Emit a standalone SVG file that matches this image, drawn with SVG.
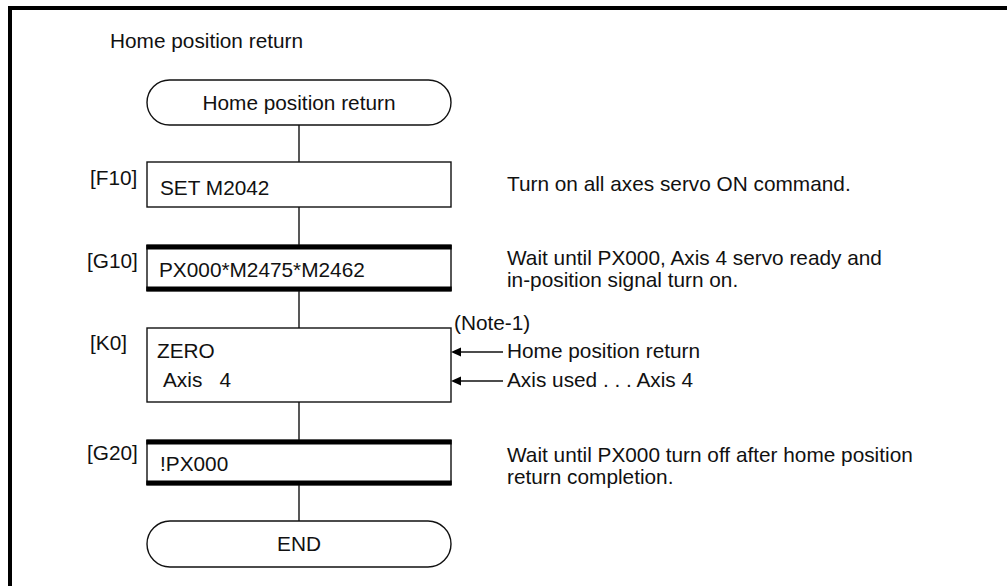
<svg xmlns="http://www.w3.org/2000/svg" width="1007" height="586" viewBox="0 0 1007 586">
<defs>
<style>
text{font-family:"Liberation Sans",Arial,sans-serif;font-size:20.8px;fill:#111}
.box{fill:#fff;stroke:#111;stroke-width:1.4}
.bar{fill:#000}
.ln{stroke:#111;stroke-width:1.4;fill:none}
.ah{fill:#000}
</style>
</defs>
<rect x="0" y="0" width="1007" height="586" fill="#fff"/>
<g id="frame">
<rect x="8" y="6" width="999" height="4" fill="#000"/>
<rect x="8" y="6" width="4" height="580" fill="#000"/>
</g>
<text x="110" y="48">Home position return</text>
<g id="connectors">
<line class="ln" x1="299" y1="125" x2="299" y2="162"/>
<line class="ln" x1="299" y1="207" x2="299" y2="245"/>
<line class="ln" x1="299" y1="291" x2="299" y2="328"/>
<line class="ln" x1="299" y1="402" x2="299" y2="440"/>
<line class="ln" x1="299" y1="485" x2="299" y2="521"/>
<line class="ln" x1="503" y1="352" x2="458" y2="352"/>
<polygon class="ah" points="451,352 461,347.5 461,356.5"/>
<line class="ln" x1="503" y1="381" x2="458" y2="381"/>
<polygon class="ah" points="451,381 461,376.5 461,385.5"/>
</g>
<g id="start">
<rect class="box" x="147" y="80" width="304" height="45" rx="22.5" ry="22.5"/>
<text x="299" y="110" text-anchor="middle">Home position return</text>
</g>
<g id="F10">
<text x="90" y="185">[F10]</text>
<rect class="box" x="147" y="162" width="304" height="45"/>
<text x="160" y="195">SET M2042</text>
<text x="507" y="191">Turn on all axes servo ON command.</text>
</g>
<g id="G10">
<text x="87" y="268">[G10]</text>
<rect class="box" x="147" y="245" width="304" height="46"/>
<rect class="bar" x="146.3" y="245" width="305.4" height="4.5"/>
<rect class="bar" x="146.3" y="286.5" width="305.4" height="4.5"/>
<text x="159" y="277">PX000*M2475*M2462</text>
<text x="507" y="265">Wait until PX000, Axis 4 servo ready and</text>
<text x="507" y="287">in-position signal turn on.</text>
</g>
<g id="K0">
<text x="90" y="350">[K0]</text>
<rect class="box" x="147" y="328" width="304" height="74"/>
<text x="157" y="358">ZERO</text>
<text x="163" y="387" xml:space="preserve">Axis   4</text>
<text x="454" y="330">(Note-1)</text>
<text x="507" y="358">Home position return</text>
<text x="507" y="387">Axis used . . . Axis 4</text>
</g>
<g id="G20">
<text x="87" y="460">[G20]</text>
<rect class="box" x="147" y="440" width="304" height="45"/>
<rect class="bar" x="146.3" y="440" width="305.4" height="4.5"/>
<rect class="bar" x="146.3" y="480.5" width="305.4" height="4.5"/>
<text x="160" y="471">!PX000</text>
<text x="507" y="462">Wait until PX000 turn off after home position</text>
<text x="507" y="484">return completion.</text>
</g>
<g id="end">
<rect class="box" x="147" y="521" width="304" height="46" rx="23" ry="23"/>
<text x="299" y="551" text-anchor="middle">END</text>
</g>
</svg>
